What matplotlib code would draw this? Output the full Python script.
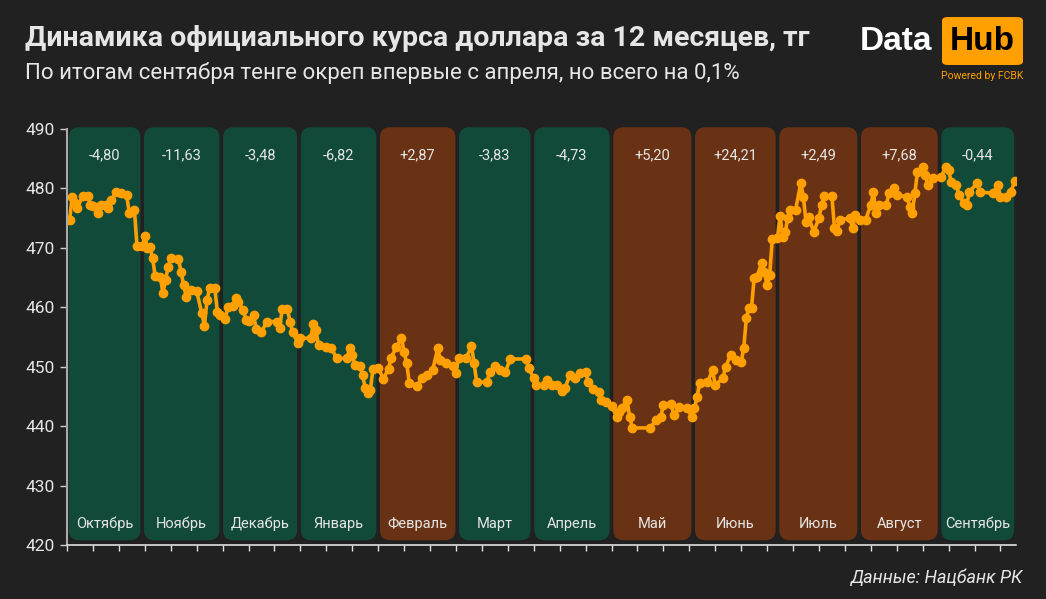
import matplotlib
matplotlib.use("Agg")
import matplotlib.pyplot as plt
from matplotlib.patches import FancyBboxPatch

plt.rcParams["font.family"] = ["Roboto", "DejaVu Sans"]

BG = "#212121"
GREEN = "#124a3a"
BROWN = "#6a3214"
ORANGE = "#ffa000"
TXT = "#e6e6e6"

# месяцы, границы периодов (в днях от начала шкалы) и изменение курса за месяц
months = ["Октябрь", "Ноябрь", "Декабрь", "Январь", "Февраль", "Март",
          "Апрель", "Май", "Июнь", "Июль", "Август", "Сентябрь"]
month_edges = [0, 29, 59.5, 89.5, 120, 150.5, 179.5, 210, 241.5, 274, 305.5, 336.5, 366]
changes = [-4.80, -11.63, -3.48, -6.82, 2.87, -3.83, -4.73, 5.20, 24.21, 2.49, 7.68, -0.44]

# курс доллара (тг)
days = [0, 1, 2, 3, 4, 6, 8, 9, 10, 12, 13, 15, 16, 17, 19, 21, 23, 24, 26, 27,
        29, 30, 31, 32, 33, 34, 36, 37, 38, 39, 40, 43, 44, 45, 46, 48, 50, 52, 53, 54,
        55, 57, 58, 59, 61, 62, 64, 65, 66, 68, 69, 70, 72, 73, 75, 77, 81, 82, 83, 85,
        86, 87, 89, 90, 94, 95, 96, 97, 100, 102, 104, 108, 109, 110, 111, 113, 114, 115, 116, 117,
        118, 120, 122, 124, 125, 127, 129, 130, 131, 132, 135, 137, 139, 141, 143, 144, 146, 149, 150, 151,
        154, 156, 157, 158, 162, 163, 165, 167, 169, 171, 177, 178, 180, 181, 184, 185, 187, 189, 191, 192,
        194, 196, 198, 200, 201, 203, 205, 206, 208, 210, 212, 213, 214, 216, 217, 218, 225, 227, 229, 230,
        233, 234, 236, 239, 241, 242, 243, 244, 247, 249, 250, 253, 254, 256, 258, 260, 261, 262, 263, 264,
        265, 266, 268, 269, 270, 271, 272, 274, 275, 276, 277, 278, 279, 281, 283, 284, 285, 286, 288, 290,
        291, 292, 295, 296, 297, 298, 302, 303, 304, 306, 308, 310, 311, 312, 313, 316, 317, 319, 320, 324,
        325, 326, 327, 328, 330, 331, 332, 334, 337, 339, 340, 341, 343, 344, 346, 347, 348, 351, 352, 357,
        359, 360, 362, 364, 365.5]
rate = [474.7, 474.7, 478.6, 477.5, 476.7, 478.7, 478.7, 477.2, 477.0, 475.9, 477.2, 477.2, 476.7, 478.0, 479.4, 479.2, 478.9, 475.9, 476.4, 470.3,
        470.3, 472.0, 470.0, 470.1, 468.3, 465.3, 465.1, 462.4, 464.6, 466.8, 468.3, 468.1, 465.9, 463.7, 461.7, 462.9, 462.7, 459.0, 456.9, 461.2,
        463.2, 463.2, 459.2, 458.7, 458.0, 460.0, 460.2, 461.6, 460.9, 459.5, 457.9, 457.7, 458.7, 456.3, 455.8, 457.6, 457.6, 456.5, 459.7, 459.7,
        457.6, 455.8, 454.0, 454.8, 454.8, 457.2, 456.2, 453.6, 453.3, 453.1, 451.4, 451.4, 453.1, 452.0, 450.3, 450.1, 448.6, 446.4, 445.6, 446.1,
        449.6, 449.8, 448.0, 449.6, 451.5, 453.3, 454.8, 452.5, 450.6, 447.3, 446.8, 448.1, 448.6, 449.4, 453.1, 451.1, 450.6, 450.2, 448.9, 451.5,
        451.5, 453.5, 450.6, 447.4, 447.4, 449.1, 450.1, 449.4, 449.1, 451.3, 451.3, 449.8, 448.1, 446.9, 446.9, 447.8, 446.9, 446.9, 445.9, 446.4,
        448.6, 448.1, 448.9, 449.1, 447.4, 446.3, 445.7, 444.4, 444.1, 443.4, 441.6, 442.4, 443.1, 444.4, 441.6, 439.7, 439.7, 441.0, 441.5, 443.6,
        443.7, 441.9, 443.2, 443.1, 441.6, 443.1, 444.9, 447.3, 447.4, 449.4, 446.9, 448.1, 450.0, 452.0, 451.2, 450.8, 453.1, 458.2, 459.9, 459.9,
        464.9, 465.1, 467.5, 465.9, 463.7, 465.4, 471.5, 471.7, 475.4, 471.8, 472.7, 475.0, 476.4, 476.4, 480.9, 478.6, 474.4, 475.2, 472.7, 475.0,
        477.2, 478.7, 478.7, 473.3, 472.8, 474.7, 475.0, 473.3, 475.5, 474.7, 474.7, 477.2, 479.4, 475.9, 477.2, 477.2, 479.2, 480.1, 478.9, 478.6,
        476.9, 475.9, 479.2, 482.8, 483.6, 482.3, 480.6, 481.8, 481.9, 483.6, 483.1, 481.1, 480.6, 478.9, 477.5, 477.2, 479.4, 480.9, 479.4, 479.2,
        480.6, 478.6, 478.6, 479.4, 481.2]

fig = plt.figure(figsize=(10.46, 5.99), dpi=100, facecolor=BG)
ax = fig.add_axes([67 / 1046, 1 - 545 / 599, 949 / 1046, 416 / 599])
ax.set_facecolor(BG)
ax.set_xlim(0, 366)
ax.set_ylim(420, 490)

# фоновые плашки месяцев
aspect = (949 / 366) / (416 / 70)
for i, m in enumerate(months):
    x0 = month_edges[i] + 0.7
    x1 = month_edges[i + 1] - 0.7
    col = GREEN if changes[i] < 0 else BROWN
    box = FancyBboxPatch((x0, 420.8), x1 - x0, 490.3 - 420.8,
                         boxstyle="round,pad=0,rounding_size=4",
                         mutation_aspect=aspect, fc=col, ec="none",
                         clip_on=False, zorder=0)
    ax.add_patch(box)
    xc = (x0 + x1) / 2
    lab = f"{changes[i]:+.2f}".replace(".", ",")
    ax.text(xc, 485.6, lab, ha="center", va="center", color=TXT, fontsize=10.5, zorder=3)
    ax.text(xc, 423.5, m, ha="center", va="center", color=TXT, fontsize=10.5, zorder=3)

ax.plot(days, rate, "-o", color=ORANGE, lw=2.6, ms=6, zorder=2)

ax.set_yticks(range(420, 491, 10))
ax.set_xticks(range(0, 361, 10))
ax.set_xticklabels([])
ax.tick_params(axis="y", colors="#cccccc", labelsize=12.5, length=5, width=1, labelcolor=TXT)
ax.tick_params(axis="x", colors="#e0e0e0", length=4, width=1)
for s in ["top", "right"]:
    ax.spines[s].set_visible(False)
ax.spines["left"].set_color("#aaaaaa")
ax.spines["left"].set_linewidth(1.5)
ax.spines["bottom"].set_color("#e0e0e0")
ax.spines["bottom"].set_linewidth(1.2)

# заголовки
fig.text(25 / 1046, 1 - 38 / 599, "Динамика официального курса доллара за 12 месяцев, тг",
         color=TXT, fontsize=20.5, fontweight="bold", va="center", ha="left")
fig.text(25 / 1046, 1 - 73 / 599, "По итогам сентября тенге окреп впервые с апреля, но всего на 0,1%",
         color=TXT, fontsize=16, va="center", ha="left")

# логотип
fig.text(932 / 1046, 1 - 42 / 599, "Data", color="white", fontsize=24, fontweight="bold",
         family="Liberation Sans", ha="right", va="center")
logo = FancyBboxPatch((942 / 1046, 1 - 65 / 599), 81 / 1046, 48 / 599,
                      boxstyle="round,pad=0,rounding_size=0.006", transform=fig.transFigure,
                      fc=ORANGE, ec="none")
fig.patches.append(logo)
fig.text(982 / 1046, 1 - 42 / 599, "Hub", color="black", fontsize=24, fontweight="bold",
         family="Liberation Sans", ha="center", va="center")
fig.text(982 / 1046, 1 - 76 / 599, "Powered by FCBK", color=ORANGE, fontsize=7.5,
         ha="center", va="center")

fig.text(1022 / 1046, 1 - 578 / 599, "Данные: Нацбанк РК", color=TXT, fontsize=13,
         style="italic", ha="right", va="center")

fig.savefig("out.png", dpi=100, facecolor=BG)
